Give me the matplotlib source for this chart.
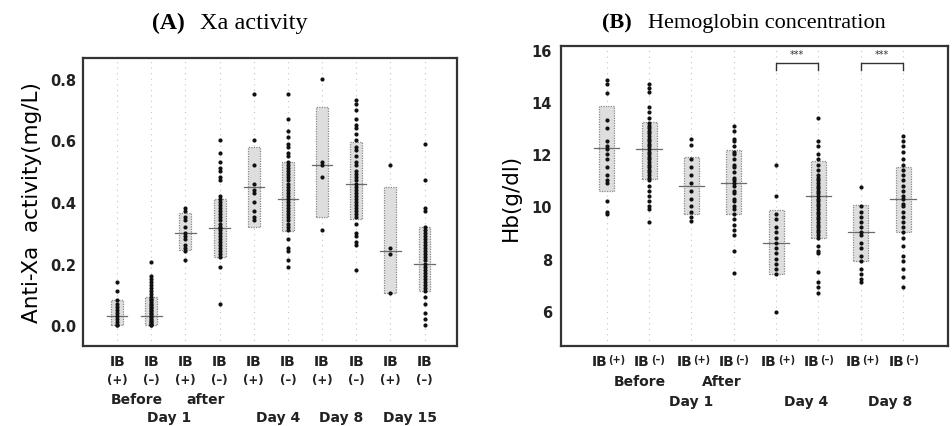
import matplotlib
matplotlib.use('Agg')
import matplotlib.pyplot as plt
from matplotlib.patches import Rectangle

plt.rcParams['font.family'] = 'DejaVu Sans'

# ---------------- data: (A) anti-Xa activity ----------------
xa_groups = ['IB(+) before', 'IB(-) before', 'IB(+) after', 'IB(-) after',
             'IB(+) d4', 'IB(-) d4', 'IB(+) d8', 'IB(-) d8', 'IB(+) d15', 'IB(-) d15']
xa_points = [
    [0.14, 0.11, 0.08, 0.07, 0.06, 0.05, 0.04, 0.03, 0.02, 0.01, 0.0, 0.0],
    [0.205, 0.16, 0.15, 0.14, 0.13, 0.12, 0.11, 0.10, 0.09, 0.085, 0.08, 0.075, 0.07, 0.065,
     0.06, 0.055, 0.05, 0.045, 0.04, 0.035, 0.03, 0.025, 0.02, 0.015, 0.01, 0.01, 0.005, 0.0, 0.0],
    [0.38, 0.37, 0.35, 0.34, 0.32, 0.30, 0.29, 0.28, 0.26, 0.25, 0.24, 0.21],
    [0.60, 0.56, 0.53, 0.51, 0.50, 0.48, 0.47, 0.42, 0.41, 0.40, 0.39, 0.38, 0.37, 0.36, 0.35,
     0.34, 0.33, 0.32, 0.315, 0.31, 0.30, 0.29, 0.28, 0.27, 0.26, 0.25, 0.24, 0.23, 0.22, 0.19, 0.07],
    [0.75, 0.60, 0.52, 0.46, 0.44, 0.43, 0.40, 0.37, 0.35, 0.34],
    [0.75, 0.67, 0.63, 0.61, 0.59, 0.58, 0.56, 0.55, 0.53, 0.52, 0.51, 0.50, 0.49, 0.48, 0.47,
     0.46, 0.45, 0.44, 0.43, 0.42, 0.41, 0.40, 0.39, 0.38, 0.37, 0.36, 0.35, 0.34, 0.33, 0.32,
     0.31, 0.28, 0.25, 0.24, 0.21, 0.19],
    [0.80, 0.53, 0.52, 0.48, 0.31],
    [0.73, 0.72, 0.70, 0.67, 0.65, 0.64, 0.62, 0.60, 0.58, 0.57, 0.55, 0.53, 0.52, 0.50, 0.49,
     0.48, 0.47, 0.46, 0.45, 0.44, 0.43, 0.42, 0.41, 0.40, 0.39, 0.38, 0.37, 0.36, 0.35, 0.33,
     0.30, 0.29, 0.27, 0.26, 0.18],
    [0.52, 0.25, 0.23, 0.105],
    [0.59, 0.47, 0.38, 0.37, 0.32, 0.31, 0.30, 0.29, 0.28, 0.27, 0.26, 0.25, 0.24, 0.23, 0.22,
     0.21, 0.20, 0.19, 0.18, 0.17, 0.16, 0.15, 0.14, 0.13, 0.12, 0.11, 0.09, 0.07, 0.04, 0.02, 0.0],
]
xa_box_low = [0.0, 0.0, 0.245, 0.22, 0.32, 0.305, 0.35, 0.345, 0.105, 0.11]
xa_box_high = [0.08, 0.09, 0.365, 0.41, 0.58, 0.53, 0.71, 0.595, 0.45, 0.32]
xa_box_mid = [0.03, 0.03, 0.30, 0.315, 0.45, 0.41, 0.52, 0.46, 0.24, 0.20]
xa_signs = ['(+)', '(\u2013)'] * 5
xa_sub = [('Before', 1.58), ('after', 3.6)]
xa_days = [('Day 1', 2.52), ('Day 4', 5.7), ('Day 8', 7.55), ('Day 15', 9.57)]
xa_yticks = [0.0, 0.2, 0.4, 0.6, 0.8]

# ---------------- data: (B) hemoglobin ----------------
hb_points = [
    [14.85, 14.7, 14.35, 13.3, 13.0, 12.5, 12.3, 12.2, 12.0, 11.8, 11.5, 11.2, 11.0, 10.9,
     10.2, 9.8, 9.7],
    [14.7, 14.55, 14.4, 13.8, 13.6, 13.4, 13.2, 13.1, 13.0, 12.9, 12.8, 12.7, 12.6, 12.5,
     12.4, 12.3, 12.2, 12.1, 12.0, 11.9, 11.8, 11.7, 11.6, 11.5, 11.4, 11.3, 11.2, 11.1, 11.0,
     10.8, 10.6, 10.4, 10.2, 10.0, 9.9, 9.4],
    [12.6, 12.35, 11.8, 11.5, 11.2, 10.9, 10.6, 10.3, 10.0, 9.8, 9.6, 9.45],
    [13.1, 12.9, 12.6, 12.5, 12.3, 12.1, 12.0, 11.8, 11.6, 11.5, 11.3, 11.1, 11.0, 10.9, 10.8,
     10.6, 10.5, 10.3, 10.2, 10.0, 9.9, 9.7, 9.5, 9.3, 9.1, 8.9, 8.3, 7.45],
    [11.6, 10.4, 9.7, 9.5, 9.2, 9.0, 8.8, 8.6, 8.4, 8.2, 8.0, 7.8, 7.6, 7.4, 5.95],
    [13.4, 12.5, 12.3, 12.0, 11.8, 11.6, 11.4, 11.2, 11.1, 11.0, 10.9, 10.8, 10.7, 10.6, 10.5,
     10.4, 10.3, 10.2, 10.1, 10.0, 9.9, 9.8, 9.7, 9.6, 9.5, 9.4, 9.3, 9.2, 9.1, 9.0, 8.9, 8.8,
     8.5, 8.3, 8.2, 7.5, 7.1, 6.9, 6.7],
    [10.75, 10.0, 9.8, 9.6, 9.4, 9.2, 9.0, 8.9, 8.6, 8.4, 8.1, 7.9, 7.6, 7.4, 7.2, 7.1],
    [12.7, 12.5, 12.3, 12.1, 11.8, 11.6, 11.4, 11.2, 11.0, 10.8, 10.6, 10.4, 10.3, 10.1, 10.0,
     9.8, 9.6, 9.4, 9.2, 9.0, 8.8, 8.5, 8.1, 7.9, 7.6, 7.3, 6.9],
]
hb_box_low = [10.6, 11.05, 9.7, 9.7, 7.4, 8.8, 7.9, 9.0]
hb_box_high = [13.85, 13.25, 11.9, 12.17, 9.87, 11.75, 10.06, 11.5]
hb_box_mid = [12.25, 12.2, 10.8, 10.9, 8.6, 10.4, 9.0, 10.3]
hb_signs = ['(+)', '(\u2013)'] * 4
hb_sub = [('Before', 1.77), ('After', 3.72)]
hb_days = [('Day 1', 3.0), ('Day 4', 5.72), ('Day 8', 7.69)]
hb_yticks = [6, 8, 10, 12, 14, 16]
hb_sig_pairs = [(5, 6), (7, 8)]

box_w = 0.35
frame_color = '#333333'
text_color = '#222222'


def draw_panel(ax, points, lows, highs, mids, pad):
    for i, pts in enumerate(points):
        x = i + 1
        ax.axvline(x, color='#c4c4c4', lw=0.8, ls=(0, (1, 4)), zorder=0)
        ax.add_patch(Rectangle((x - box_w / 2, lows[i]), box_w, highs[i] - lows[i],
                               facecolor='#dedede', edgecolor='#8a8a8a', lw=0.9,
                               ls=(0, (1, 1)), zorder=1))
        ax.plot([x - 0.3, x + 0.3], [mids[i], mids[i]], color='#6a6a6a', lw=0.9, zorder=2)
        ax.plot([x] * len(pts), pts, 'o', color='#111111', ms=3.0, mec='none', zorder=3)
    for sp in ax.spines.values():
        sp.set_linewidth(1.6)
        sp.set_color(frame_color)
    ax.set_xticks([])
    ax.tick_params(axis='y', length=0, pad=pad, labelsize=10.5)
    for lab in ax.get_yticklabels():
        lab.set_fontweight('bold')
        lab.set_color(text_color)


fig = plt.figure(figsize=(9.53, 4.27), dpi=100)

# ---- panel A ----
axA = fig.add_axes([0.0871, 0.1874, 0.3924, 0.6745])
axA.set_xlim(0.0, 10.95)
axA.set_ylim(-0.068, 0.868)
axA.set_yticks(xa_yticks)
axA.set_yticklabels([f'{v:.1f}' for v in xa_yticks])
draw_panel(axA, xa_points, xa_box_low, xa_box_high, xa_box_mid, pad=5)
axA.set_ylabel('Anti-Xa  activity(mg/L)', fontsize=15.5, labelpad=6)
tr = axA.get_xaxis_transform()
for i, s in enumerate(xa_signs):
    axA.text(i + 1, -0.052, 'IB', transform=tr, ha='center', va='center',
             fontsize=10, fontweight='bold', color=text_color)
    axA.text(i + 1, -0.115, s, transform=tr, ha='center', va='center',
             fontsize=8.5, fontweight='bold', color=text_color)
for t, x in xa_sub:
    axA.text(x, -0.184, t, transform=tr, ha='center', va='center',
             fontsize=10, fontweight='bold', color=text_color)
for t, x in xa_days:
    axA.text(x, -0.245, t, transform=tr, ha='center', va='center',
             fontsize=10, fontweight='bold', color=text_color)

fig.text(0.1595, 0.946, '(A)', family='Liberation Serif', fontweight='bold',
         fontsize=17, ha='left', va='center')
fig.text(0.2099, 0.946, 'Xa activity', family='Liberation Serif',
         fontsize=17.5, ha='left', va='center')

# ---- panel B ----
axB = fig.add_axes([0.5887, 0.1874, 0.4061, 0.7026])
axB.set_xlim(-0.08, 9.06)
axB.set_ylim(4.65, 16.15)
axB.set_yticks(hb_yticks)
axB.set_yticklabels([str(v) for v in hb_yticks])
draw_panel(axB, hb_points, hb_box_low, hb_box_high, hb_box_mid, pad=6.5)
axB.set_ylabel('Hb(g/dl)', fontsize=15.5, labelpad=8)
trB = axB.get_xaxis_transform()
for i, s in enumerate(hb_signs):
    axB.text(i + 1 + 0.02, -0.05, 'IB', transform=trB, ha='right', va='center',
             fontsize=10, fontweight='bold', color=text_color)
    axB.text(i + 1 + 0.04, -0.042, s, transform=trB, ha='left', va='center',
             fontsize=7, fontweight='bold', color=text_color)
for t, x in hb_sub:
    axB.text(x, -0.117, t, transform=trB, ha='center', va='center',
             fontsize=10, fontweight='bold', color=text_color)
for t, x in hb_days:
    axB.text(x, -0.183, t, transform=trB, ha='center', va='center',
             fontsize=10, fontweight='bold', color=text_color)
for a, b in hb_sig_pairs:
    axB.plot([a, a, b, b], [15.22, 15.5, 15.5, 15.22], color='#333333', lw=1.0)
    axB.text((a + b) / 2, 15.85, '***', ha='center', va='center', fontsize=7,
             color='#333333')

fig.text(0.6317, 0.946, '(B)', family='Liberation Serif', fontweight='bold',
         fontsize=16, ha='left', va='center')
fig.text(0.680, 0.946, 'Hemoglobin concentration', family='Liberation Serif',
         fontsize=16, ha='left', va='center')

fig.savefig('out.png', dpi=100)
